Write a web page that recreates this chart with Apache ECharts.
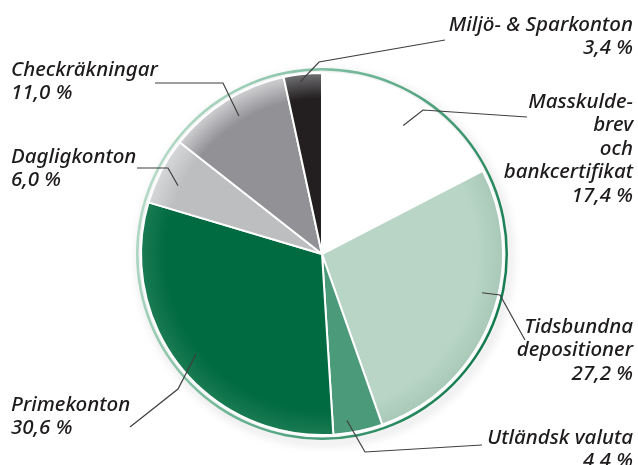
<!DOCTYPE html>
<html>
<head>
<meta charset="utf-8">
<script src="https://cdn.jsdelivr.net/npm/echarts@6/dist/echarts.min.js"></script>
<style>
html,body{margin:0;padding:0;background:#fff;}
#chart{width:638px;height:465px;}
</style>
</head>
<body>
<div id="chart"></div>
<script>
var categories = ['Masskulde-\nbrev\noch\nbankcertifikat', 'Tidsbundna\ndepositioner', 'Utländsk valuta', 'Primekonton', 'Dagligkonton', 'Checkräkningar', 'Miljö- & Sparkonton'];
var values = [17.4, 27.2, 4.4, 30.6, 6.0, 11.0, 3.4];
var colors = ['#ffffff', '#b8d5c6', '#4b9a79', '#006a40', '#bdbec0', '#929296', '#231f20'];
var edgeColors = ['#ffffff', '#a9c9b8', '#4b9a79', '#1a7b52', '#d6d7d8', '#cfcfd2', '#707072'];

// label layout: anchor x, top y, alignment, leader start (fraction of radius, angle offset deg), elbow and end points
var labelPos = [
  {x: 633, y: 90, align: 'right', f: 0.84, da: 1, elbow: [423, 110], end: [527, 117]},
  {x: 633, y: 315, align: 'right', f: 0.91, da: -8, elbow: [500, 295], end: [525, 340]},
  {x: 633, y: 426, align: 'right', f: 0.93, da: 3, elbow: [365, 452], end: [482, 445]},
  {x: 11, y: 393, align: 'left', f: 0.89, da: 0, elbow: [178, 389], end: [130, 427]},
  {x: 11, y: 145, align: 'left', f: 0.88, da: -2, elbow: [168, 168], end: [137, 168]},
  {x: 11, y: 58, align: 'left', f: 0.89, da: 1, elbow: [223, 83], end: [155, 83]},
  {x: 633, y: 13, align: 'right', f: 0.96, da: -1, elbow: [319, 62], end: [445, 40]}
];

var CX = 322, CY = 254, R = 181;
var total = values.reduce(function (a, b) { return a + b; }, 0);
var midAngles = [];
(function () {
  var acc = 0;
  for (var i = 0; i < values.length; i++) {
    midAngles.push((acc + values[i] / 2) / total * 2 * Math.PI);
    acc += values[i];
  }
})();

function fmt(v) { return v.toFixed(1).replace('.', ',') + ' %'; }

var chart = echarts.init(document.getElementById('chart'), null, {renderer: 'canvas'});
var data = categories.map(function (c, i) {
  return {name: c, value: values[i], itemStyle: {color: {
    type: 'radial', x: CX, y: CY, r: R, global: true,
    colorStops: [
      {offset: 0, color: colors[i]},
      {offset: 0.86, color: colors[i]},
      {offset: 1, color: edgeColors[i]}
    ]
  }}};
});

var leaders = values.map(function (v, i) {
  var lp = labelPos[i];
  var a = midAngles[i] + lp.da * Math.PI / 180;
  var sx = CX + Math.sin(a) * R * lp.f;
  var sy = CY - Math.cos(a) * R * lp.f;
  return {
    type: 'polyline',
    z: 100,
    silent: true,
    shape: {points: [[sx, sy], lp.elbow, lp.end]},
    style: {stroke: '#3f3f3f', lineWidth: 1.2, fill: null}
  };
});

chart.setOption({
  backgroundColor: '#ffffff',
  animation: false,
  graphic: leaders,
  series: [
    {
      type: 'pie',
      silent: true,
      center: [CX, CY],
      radius: [R + 2.5, R + 5],
      startAngle: 90,
      data: [{value: 1, itemStyle: {
        color: new echarts.graphic.LinearGradient(0, 0.3, 1, 0.7, [
          {offset: 0, color: '#b7dcc9'},
          {offset: 0.45, color: '#6ab493'},
          {offset: 1, color: '#0c774a'}
        ]),
        shadowBlur: 10, shadowColor: 'rgba(0,0,0,0.25)', shadowOffsetX: 3, shadowOffsetY: 4
      }}],
      label: {show: false},
      labelLine: {show: false}
    },
    {
      type: 'pie',
      silent: true,
      center: [CX, CY],
      radius: [0, R],
      startAngle: 90,
      clockwise: true,
      avoidLabelOverlap: false,
      itemStyle: {borderColor: '#ffffff', borderWidth: 2},
      data: data,
      label: {
        show: true,
        formatter: function (p) { return p.name + '\n' + fmt(p.value); },
        fontFamily: 'Noto Sans',
        fontStyle: 'italic',
        fontWeight: 500,
        fontSize: 20.5,
        lineHeight: 23.5,
        color: '#1e1b1c'
      },
      labelLine: {show: false},
      labelLayout: function (params) {
        var lp = labelPos[params.dataIndex];
        return {x: lp.x, y: lp.y, align: lp.align, verticalAlign: 'top'};
      }
    }
  ]
});
</script>
</body>
</html>
